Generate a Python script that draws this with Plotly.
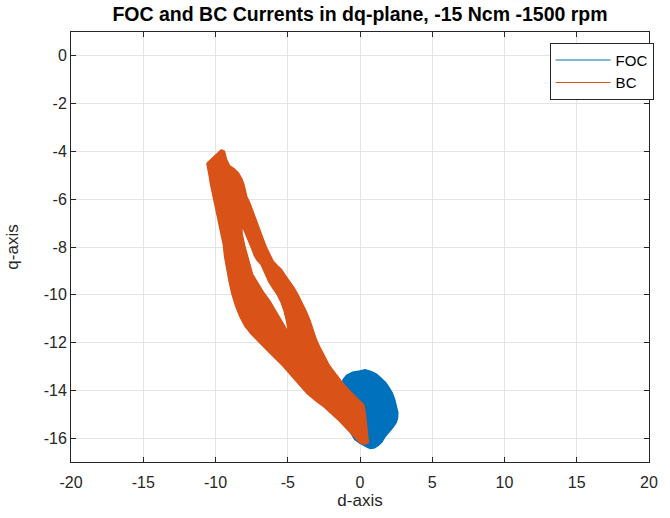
import plotly.graph_objects as go

# d/q current traces (outlines of the recorded trajectory clouds)
# BC: outer contour of the band, top tip -> right edge down -> bottom -> left edge up
bc_outer_d = [-10.58, -10.35, -10.10, -9.85, -9.60, -9.40, -9.25, -9.05, -8.70, -8.42,
              -8.20, -8.07, -7.95, -7.85, -7.65, -7.50, -7.39, -7.15, -6.94, -6.70,
              -6.49, -6.25, -6.03, -5.75, -5.47, -5.20, -4.90, -4.60, -4.33, -4.05,
              -3.76, -3.50, -3.30, -3.05, -2.80, -2.50, -2.20, -1.85, -1.55, -1.26,
              -0.85, -0.45, -0.05, 0.25, 0.35, 0.45, 0.52, 0.56, 0.30, 0.00,
              -0.20, -0.50, -0.95, -1.45, -2.00, -2.55, -3.10, -3.65, -4.20, -4.80,
              -5.35, -5.95, -6.45, -7.00, -7.50, -7.95, -8.30, -8.60, -8.85, -9.05,
              -9.21, -9.35, -9.44, -9.60, -9.78, -9.90, -10.00, -10.15, -10.34, -10.45]
bc_outer_q = [-4.50, -4.38, -4.25, -4.10, -3.95, -4.00, -4.35, -4.60, -4.75, -4.92,
              -5.15, -5.35, -5.65, -5.90, -6.15, -6.40, -6.64, -7.00, -7.34, -7.70,
              -8.03, -8.35, -8.59, -8.78, -8.94, -9.18, -9.43, -9.70, -9.98, -10.30,
              -10.68, -11.05, -11.45, -11.86, -12.20, -12.55, -12.90, -13.20, -13.45, -13.67,
              -13.95, -14.20, -14.45, -14.62, -15.00, -15.45, -15.85, -16.18, -16.25, -16.18,
              -16.05, -15.85, -15.55, -15.25, -14.95, -14.65, -14.40, -14.12, -13.75, -13.35,
              -12.95, -12.60, -12.30, -11.95, -11.65, -11.30, -10.90, -10.45, -9.95, -9.40,
              -8.87, -8.40, -7.90, -7.45, -6.99, -6.65, -6.29, -5.80, -5.32, -4.90]

# BC: inner loop (gap between the two branches), top -> left edge down -> right edge up
bc_hole_d = [-8.20, -8.17, -8.00, -7.85, -7.65, -7.45, -7.10, -6.70, -6.26, -5.90,
             -5.58, -5.25, -5.00, -4.98, -5.10, -5.23, -5.45, -5.70, -6.03, -6.30,
             -6.55, -6.83, -7.10, -7.30, -7.45, -7.65, -7.90, -8.07]
bc_hole_q = [-7.18, -7.48, -7.95, -8.30, -8.75, -9.15, -9.50, -9.90, -10.26, -10.62,
             -10.96, -11.30, -11.58, -11.37, -11.00, -10.68, -10.30, -10.00, -9.70, -9.45,
             -9.10, -8.73, -8.55, -8.35, -8.10, -7.80, -7.45, -7.20]

# FOC: contour of the compact cloud
foc_d = [0.00, 0.35, 0.75, 1.12, 1.45, 1.75, 1.95, 2.20, 2.37, 2.50,
         2.60, 2.58, 2.49, 2.25, 1.95, 1.70, 1.47, 1.25, 1.00, 0.75,
         0.56, 0.25, 0.00, -0.35, -0.60, -0.80, -1.00, -1.20, -1.25, -1.15,
         -0.92, -0.50]
foc_q = [-13.20, -13.15, -13.22, -13.33, -13.50, -13.68, -13.85, -14.10, -14.37, -14.65,
         -14.93, -15.15, -15.34, -15.55, -15.75, -15.95, -16.18, -16.30, -16.39, -16.42,
         -16.39, -16.30, -16.20, -16.05, -15.80, -15.40, -14.80, -14.20, -13.85, -13.55,
         -13.38, -13.25]

series_names = ["FOC", "BC"]
series_colors = ["#0072BD", "#D95319"]

x_ticks = [-20, -15, -10, -5, 0, 5, 10, 15, 20]
y_ticks = [0, -2, -4, -6, -8, -10, -12, -14, -16]

FONT = "Liberation Sans, Arial, Helvetica, sans-serif"
AXIS_COLOR = "#262626"


def closed(xs, ys):
    return list(xs) + [xs[0]], list(ys) + [ys[0]]


def ring(outer_x, outer_y, hole_x, hole_y):
    # keyhole path: outer contour, then the inner loop with opposite winding
    ox, oy = closed(outer_x, outer_y)
    hx, hy = closed(hole_x, hole_y)
    return ox + hx + [ox[0]], oy + hy + [oy[0]]


fig = go.Figure()

foc_x, foc_y = closed(foc_d, foc_q)
bc_x, bc_y = ring(bc_outer_d, bc_outer_q, bc_hole_d, bc_hole_q)
bc_ox, bc_oy = closed(bc_outer_d, bc_outer_q)
bc_hx, bc_hy = closed(bc_hole_d, bc_hole_q)

for name, color, fx, fy, lines in [
    (series_names[0], series_colors[0], foc_x, foc_y, [(foc_x, foc_y)]),
    (series_names[1], series_colors[1], bc_x, bc_y, [(bc_ox, bc_oy), (bc_hx, bc_hy)]),
]:
    # filled cloud with a slightly thick rim
    fig.add_trace(go.Scatter(
        x=fx, y=fy, mode="lines", fill="toself", fillcolor=color,
        line=dict(color=color, width=2), showlegend=False, hoverinfo="skip",
    ))
    # thin contour that also carries the legend entry
    lx, ly = [], []
    for sx, sy in lines:
        lx += sx + [None]
        ly += sy + [None]
    fig.add_trace(go.Scatter(
        x=lx, y=ly, mode="lines", name=name,
        line=dict(color=color, width=1), connectgaps=False,
    ))

axis_common = dict(
    ticks="inside", ticklen=5, tickwidth=1, tickcolor=AXIS_COLOR,
    showline=True, linecolor=AXIS_COLOR, linewidth=1, mirror="allticks",
    showgrid=True, gridcolor="#e4e4e4", gridwidth=1, zeroline=False,
    tickfont=dict(family=FONT, size=16, color=AXIS_COLOR),
)

fig.update_layout(
    width=670, height=518,
    margin=dict(l=71, r=14, t=32, b=55),
    paper_bgcolor="white", plot_bgcolor="white",
    font=dict(family=FONT, color=AXIS_COLOR),
    title=dict(
        text="<b>FOC and BC Currents in dq-plane, -15 Ncm -1500 rpm</b>",
        x=0.5, xref="paper", xanchor="center",
        y=1 - 14 / 518, yref="container", yanchor="middle",
        font=dict(family=FONT, size=19.5, color="#000000"),
    ),
    xaxis=dict(
        range=[-20, 20], tickvals=x_ticks, ticktext=[str(v) for v in x_ticks],
        ticklabelstandoff=6,
        title=dict(text="d-axis", font=dict(family=FONT, size=17, color=AXIS_COLOR), standoff=3),
        **axis_common,
    ),
    yaxis=dict(
        range=[-17, 1], tickvals=y_ticks, ticktext=[str(v) for v in y_ticks],
        title=dict(text="q-axis", font=dict(family=FONT, size=17, color=AXIS_COLOR), standoff=20),
        **axis_common,
    ),
    legend=dict(
        x=1.008, xanchor="right", y=0.975, yanchor="top",
        bgcolor="white", bordercolor=AXIS_COLOR, borderwidth=1,
        font=dict(family=FONT, size=15, color="#000000"),
        itemwidth=55, tracegroupgap=0,
    ),
    showlegend=True,
)

fig.write_html("out.html")
